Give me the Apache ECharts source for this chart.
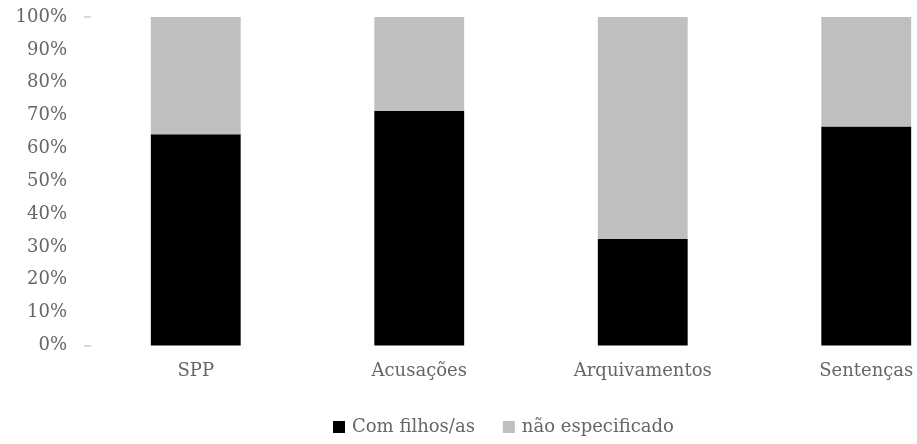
<!DOCTYPE html>
<html>
<head>
<meta charset="utf-8">
<script src="https://cdn.jsdelivr.net/npm/echarts@6/dist/echarts.min.js"></script>
<style>
  html, body { margin: 0; padding: 0; background: #fff; overflow: hidden; }
  body { width: 917px; height: 444px; }
  /* plot runs past the right edge, so the last category is cut off */
  #chart { width: 980px; height: 444px; }
</style>
</head>
<body>
<div id="chart"></div>
<script>
// Share of cases by stage, split by whether the person has children
const categories = ['SPP', 'Acusações', 'Arquivamentos', 'Sentenças'];
const comFilhos = [64.3, 71.4, 32.4, 66.7];
const naoEspecificado = [35.7, 28.6, 67.6, 33.3];
const yTicks = [0, 10, 20, 30, 40, 50, 60, 70, 80, 90, 100];

const FONT = '"DejaVu Serif", "Liberation Serif", serif';
const TEXT = '#666666';

const chart = echarts.init(document.getElementById('chart'), null, { renderer: 'canvas' });
chart.setOption({
  animation: false,
  backgroundColor: '#ffffff',
  grid: { left: 84, right: 2, top: 17, bottom: 98.5, containLabel: false },
  legend: {
    data: ['Com filhos/as', 'não especificado'],
    bottom: 3,
    left: 328,
    icon: 'rect',
    itemWidth: 12,
    itemHeight: 12,
    itemGap: 28,
    textStyle: { fontFamily: FONT, fontSize: 18, color: TEXT, padding: [0, 0, 0, 2] }
  },
  xAxis: {
    type: 'category',
    data: categories,
    axisLine: { show: false },
    axisTick: { show: false },
    axisLabel: { fontFamily: FONT, fontSize: 18, color: TEXT, margin: 17 }
  },
  yAxis: {
    type: 'value',
    min: 0,
    max: 100,
    interval: 10,
    splitLine: { show: false },
    axisLine: { show: false },
    axisTick: {
      show: true, inside: true, length: 7,
      customValues: [0, 100],
      lineStyle: { color: '#d9d9d9', width: 2 }
    },
    axisLabel: {
      fontFamily: FONT, fontSize: 18, color: TEXT, margin: 17,
      formatter: v => (yTicks.includes(v) ? v + '%' : '')
    }
  },
  series: [
    {
      name: 'Com filhos/as',
      type: 'bar',
      stack: 'total',
      barWidth: '40.2%',
      data: comFilhos,
      itemStyle: { color: '#000000' }
    },
    {
      name: 'não especificado',
      type: 'bar',
      stack: 'total',
      barWidth: '40.2%',
      data: naoEspecificado,
      itemStyle: { color: '#bfbfbf' }
    }
  ]
});
</script>
</body>
</html>
